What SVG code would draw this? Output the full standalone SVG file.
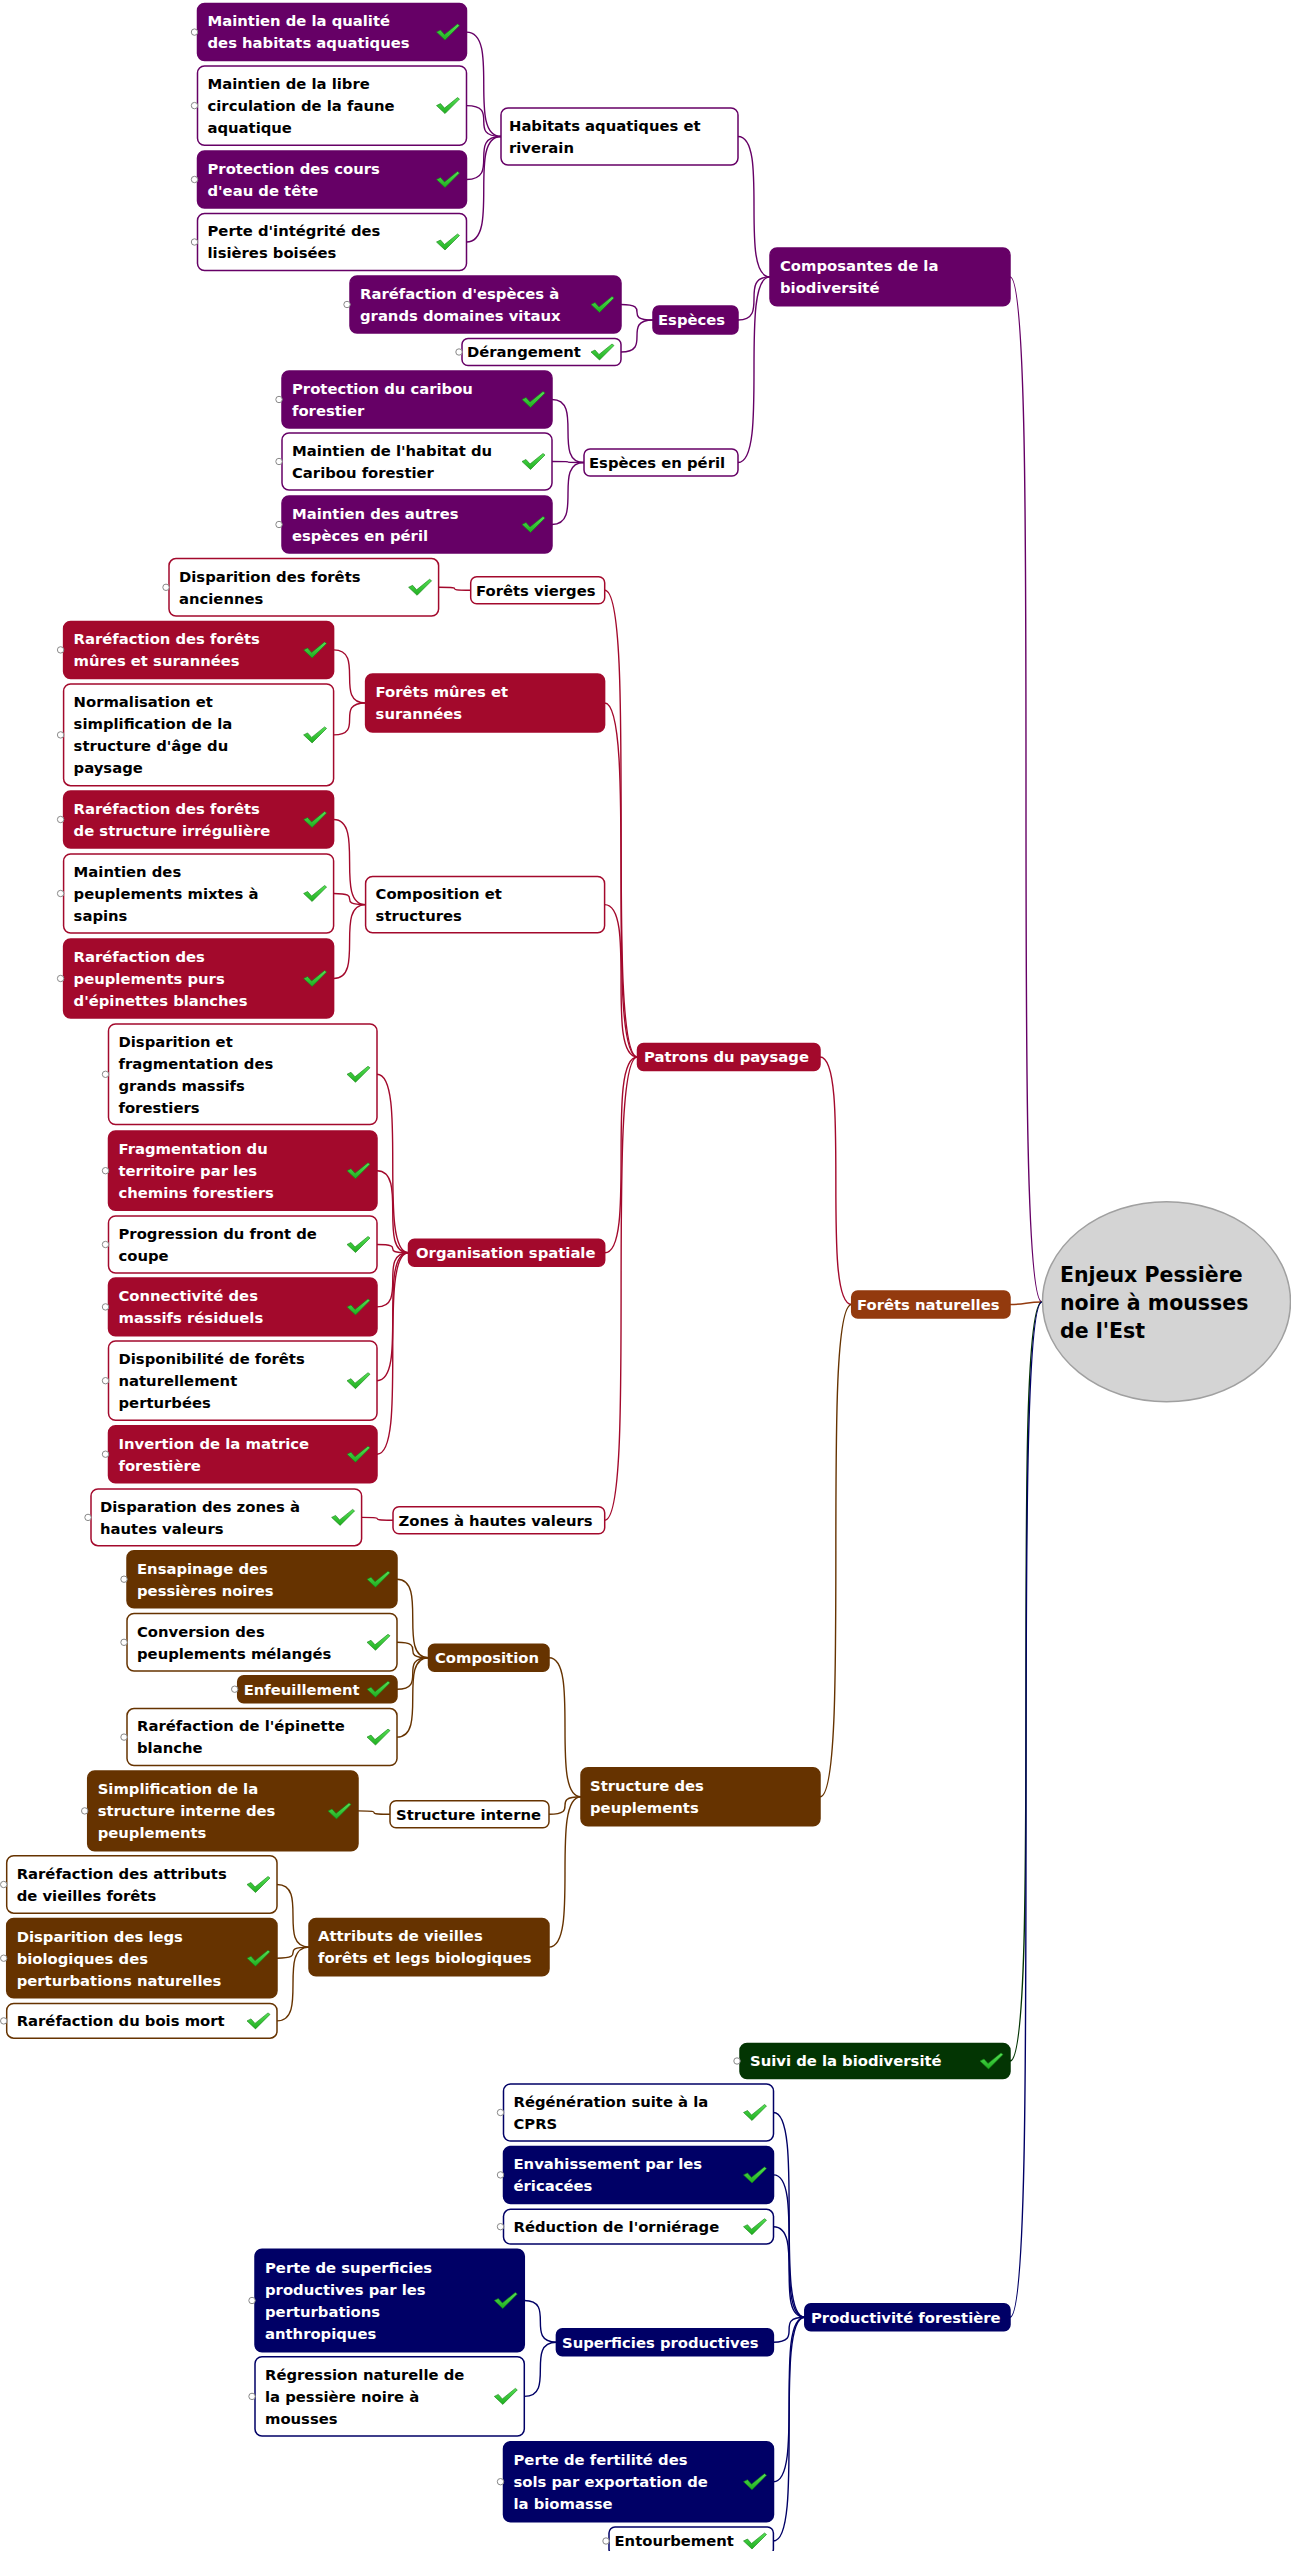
<svg xmlns="http://www.w3.org/2000/svg" width="1291" height="2551" viewBox="0 0 1291 2551">
<style>
text{font-family:"DejaVu Sans","Liberation Sans",sans-serif;font-weight:bold;font-size:14.8px}
.w{fill:#fff}.b{fill:#000}
rect{stroke-width:1.5}
.fp{fill:#660066;stroke:#660066}.wp{fill:#fff;stroke:#660066}
.fr{fill:#a3092c;stroke:#a3092c}.wr{fill:#fff;stroke:#a3092c}
.fo{fill:#933a0e;stroke:#933a0e}
.fb{fill:#663300;stroke:#663300}.wb{fill:#fff;stroke:#663300}
.fg{fill:#033503;stroke:#033503}
.fn{fill:#000066;stroke:#000066}.wn{fill:#fff;stroke:#000066}
.dot{fill:#fff;stroke:#888;stroke-width:1}
#connectors path{fill:none;stroke-width:1.4}
.cp{stroke:#660066}.cr{stroke:#a3092c}.cb{stroke:#663300}.co{stroke:#933a0e}.cg{stroke:#033503}.cn{stroke:#000066}
.root{font-size:20.5px}
</style>
<defs>
<linearGradient id="gk" x1="0" y1="0" x2="0" y2="1"><stop offset="0" stop-color="#55e055"/><stop offset="1" stop-color="#1fae1f"/></linearGradient>
<g id="ck"><path d="M0 7 L4 5 L8 9.5 L21 -1 L23 0.5 L8.5 15 Z" fill="url(#gk)" stroke="#128212" stroke-width="0.6" stroke-linejoin="round"/></g>
</defs>
<rect width="1291" height="2551" fill="#fff"/>
<g id="connectors">
<path class="cp" d="M466.5 32.1 C501 32.1 466.5 136.5 501 136.5"/>
<path class="cp" d="M466.5 105.6 C501 105.6 466.5 136.5 501 136.5"/>
<path class="cp" d="M466.5 179.5 C501 179.5 466.5 136.5 501 136.5"/>
<path class="cp" d="M466.5 242 C501 242 466.5 136.5 501 136.5"/>
<path class="cp" d="M621 304.5 C653 304.5 621 320 653 320"/>
<path class="cp" d="M621 352 C653 352 621 320 653 320"/>
<path class="cp" d="M552 399.5 C584 399.5 552 462.5 584 462.5"/>
<path class="cp" d="M552 461.5 C584 461.5 552 462.5 584 462.5"/>
<path class="cp" d="M552 524.5 C584 524.5 552 462.5 584 462.5"/>
<path class="cp" d="M738 136.5 C770 136.5 738 276.9 770 276.9"/>
<path class="cp" d="M738 320 C770 320 738 276.9 770 276.9"/>
<path class="cp" d="M738 462.5 C770 462.5 738 276.9 770 276.9"/>
<path class="cp" d="M1010 276.9 C1042 276.9 1010 1302 1042 1302"/>
<path class="cr" d="M438.6 587.3 C470.7 587.3 438.6 590.3 470.7 590.3"/>
<path class="cr" d="M333.6 649.9 C365.6 649.9 333.6 703 365.6 703"/>
<path class="cr" d="M333.6 734.9 C365.6 734.9 333.6 703 365.6 703"/>
<path class="cr" d="M333.6 819.5 C365.6 819.5 333.6 904.6 365.6 904.6"/>
<path class="cr" d="M333.6 893.5 C365.6 893.5 333.6 904.6 365.6 904.6"/>
<path class="cr" d="M333.6 978.5 C365.6 978.5 333.6 904.6 365.6 904.6"/>
<path class="cr" d="M377 1074.3 C408.5 1074.3 377 1252.8 408.5 1252.8"/>
<path class="cr" d="M377 1170.7 C408.5 1170.7 377 1252.8 408.5 1252.8"/>
<path class="cr" d="M377 1244.5 C408.5 1244.5 377 1252.8 408.5 1252.8"/>
<path class="cr" d="M377 1306.9 C408.5 1306.9 377 1252.8 408.5 1252.8"/>
<path class="cr" d="M377 1380.7 C408.5 1380.7 377 1252.8 408.5 1252.8"/>
<path class="cr" d="M377 1454.2 C408.5 1454.2 377 1252.8 408.5 1252.8"/>
<path class="cr" d="M361.6 1517.4 C393 1517.4 361.6 1520.2 393 1520.2"/>
<path class="cr" d="M604.7 590.3 C637.5 590.3 604.7 1057 637.5 1057"/>
<path class="cr" d="M604.6 703 C637.5 703 604.6 1057 637.5 1057"/>
<path class="cr" d="M604.6 904.6 C637.5 904.6 604.6 1057 637.5 1057"/>
<path class="cr" d="M604.7 1252.8 C637.5 1252.8 604.7 1057 637.5 1057"/>
<path class="cr" d="M604.7 1520.2 C637.5 1520.2 604.7 1057 637.5 1057"/>
<path class="cr" d="M820 1057 C851.7 1057 820 1304.5 851.7 1304.5"/>
<path class="cb" d="M397 1579.2 C428.5 1579.2 397 1657.8 428.5 1657.8"/>
<path class="cb" d="M397 1642.3 C428.5 1642.3 397 1657.8 428.5 1657.8"/>
<path class="cb" d="M397 1689.2 C428.5 1689.2 397 1657.8 428.5 1657.8"/>
<path class="cb" d="M397 1737.1 C428.5 1737.1 397 1657.8 428.5 1657.8"/>
<path class="cb" d="M358 1810.9 C390 1810.9 358 1814.2 390 1814.2"/>
<path class="cb" d="M277 1884.5 C309 1884.5 277 1947.1 309 1947.1"/>
<path class="cb" d="M277 1958.2 C309 1958.2 277 1947.1 309 1947.1"/>
<path class="cb" d="M277 2020.9 C309 2020.9 277 1947.1 309 1947.1"/>
<path class="cb" d="M549 1657.8 C581 1657.8 549 1796.8 581 1796.8"/>
<path class="cb" d="M549 1814.2 C581 1814.2 549 1796.8 581 1796.8"/>
<path class="cb" d="M549 1947.1 C581 1947.1 549 1796.8 581 1796.8"/>
<path class="cb" d="M820 1796.8 C851.7 1796.8 820 1304.5 851.7 1304.5"/>
<path class="co" d="M1010 1304.5 C1026 1304.5 1026 1302 1042 1302"/>
<path class="cg" d="M1010 2061 C1042 2061 1010 1302 1042 1302"/>
<path class="cn" d="M773.5 2112.5 C804.8 2112.5 773.5 2317.2 804.8 2317.2"/>
<path class="cn" d="M773.5 2174.9 C804.8 2174.9 773.5 2317.2 804.8 2317.2"/>
<path class="cn" d="M773.5 2226.7 C804.8 2226.7 773.5 2317.2 804.8 2317.2"/>
<path class="cn" d="M773.4 2342.2 C804.8 2342.2 773.4 2317.2 804.8 2317.2"/>
<path class="cn" d="M773.5 2481.7 C804.8 2481.7 773.5 2317.2 804.8 2317.2"/>
<path class="cn" d="M773.4 2541 C804.8 2541 773.4 2317.2 804.8 2317.2"/>
<path class="cn" d="M524.3 2300.5 C556.4 2300.5 524.3 2342.2 556.4 2342.2"/>
<path class="cn" d="M524.3 2396.4 C556.4 2396.4 524.3 2342.2 556.4 2342.2"/>
<path class="cn" d="M1010 2317.2 C1042 2317.2 1010 1302 1042 1302"/>
</g>

<g id="root">
<ellipse cx="1166.5" cy="1301.7" rx="124" ry="100" fill="#d4d4d4" stroke="#a0a0a0" stroke-width="1.5"/>
<text class="b root"><tspan x="1060" y="1281.7">Enjeux Pessière</tspan><tspan x="1060" y="1310">noire à mousses</tspan><tspan x="1060" y="1338.3">de l'Est</tspan></text>
</g>

<g id="n1"><rect class="fp" x="197.5" y="3.6" width="269" height="57" rx="7"/><circle class="dot" cx="194.5" cy="32.1" r="3.2"/><text class="w"><tspan x="207.5" y="26.4">Maintien de la qualité</tspan><tspan x="207.5" y="48.4">des habitats aquatiques</tspan></text><use href="#ck" x="436.5" y="25.1"/></g>
<g id="n2"><rect class="wp" x="197.5" y="66" width="269" height="79.3" rx="7"/><circle class="dot" cx="194.5" cy="105.6" r="3.2"/><text class="b"><tspan x="207.5" y="89">Maintien de la libre</tspan><tspan x="207.5" y="111">circulation de la faune</tspan><tspan x="207.5" y="133">aquatique</tspan></text><use href="#ck" x="436.5" y="98.6"/></g>
<g id="n3"><rect class="fp" x="197.5" y="151" width="269" height="57" rx="7"/><circle class="dot" cx="194.5" cy="179.5" r="3.2"/><text class="w"><tspan x="207.5" y="173.8">Protection des cours</tspan><tspan x="207.5" y="195.8">d'eau de tête</tspan></text><use href="#ck" x="436.5" y="172.5"/></g>
<g id="n4"><rect class="wp" x="197.5" y="213.5" width="269" height="57" rx="7"/><circle class="dot" cx="194.5" cy="242" r="3.2"/><text class="b"><tspan x="207.5" y="236.3">Perte d'intégrité des</tspan><tspan x="207.5" y="258.3">lisières boisées</tspan></text><use href="#ck" x="436.5" y="235"/></g>
<g id="n5"><rect class="wp" x="501" y="108" width="237" height="57" rx="7"/><text class="b"><tspan x="509" y="130.8">Habitats aquatiques et</tspan><tspan x="509" y="152.8">riverain</tspan></text></g>
<g id="n6"><rect class="fp" x="770" y="248" width="240" height="57.7" rx="7"/><text class="w"><tspan x="780" y="271.2">Composantes de la</tspan><tspan x="780" y="293.2">biodiversité</tspan></text></g>
<g id="n7"><rect class="fp" x="350" y="276" width="271" height="57" rx="7"/><circle class="dot" cx="347" cy="304.5" r="3.2"/><text class="w"><tspan x="360" y="298.8">Raréfaction d'espèces à</tspan><tspan x="360" y="320.8">grands domaines vitaux</tspan></text><use href="#ck" x="591" y="297.5"/></g>
<g id="n8"><rect class="wp" x="462" y="338.5" width="159" height="27" rx="6"/><circle class="dot" cx="459" cy="352" r="3.2"/><text class="b" x="467" y="357.3">Dérangement</text><use href="#ck" x="591" y="345"/></g>
<g id="n9"><rect class="fp" x="653" y="306" width="85" height="28" rx="6"/><text class="w" x="658" y="325.3">Espèces</text></g>
<g id="n10"><rect class="fp" x="282" y="371" width="270" height="57" rx="7"/><circle class="dot" cx="279" cy="399.5" r="3.2"/><text class="w"><tspan x="292" y="393.8">Protection du caribou</tspan><tspan x="292" y="415.8">forestier</tspan></text><use href="#ck" x="522" y="392.5"/></g>
<g id="n11"><rect class="wp" x="282" y="433" width="270" height="57" rx="7"/><circle class="dot" cx="279" cy="461.5" r="3.2"/><text class="b"><tspan x="292" y="455.8">Maintien de l'habitat du</tspan><tspan x="292" y="477.8">Caribou forestier</tspan></text><use href="#ck" x="522" y="454.5"/></g>
<g id="n12"><rect class="fp" x="282" y="496" width="270" height="57" rx="7"/><circle class="dot" cx="279" cy="524.5" r="3.2"/><text class="w"><tspan x="292" y="518.8">Maintien des autres</tspan><tspan x="292" y="540.8">espèces en péril</tspan></text><use href="#ck" x="522" y="517.5"/></g>
<g id="n13"><rect class="wp" x="584" y="449" width="154" height="27" rx="6"/><text class="b" x="589" y="467.8">Espèces en péril</text></g>

<g id="n14"><rect class="wr" x="169" y="558.6" width="269.6" height="57.4" rx="7"/><circle class="dot" cx="166" cy="587.3" r="3.2"/><text class="b"><tspan x="179" y="581.6">Disparition des forêts</tspan><tspan x="179" y="603.6">anciennes</tspan></text><use href="#ck" x="408.6" y="580.3"/></g>
<g id="n15"><rect class="wr" x="470.7" y="576.8" width="134" height="27" rx="6"/><text class="b" x="476" y="595.6">Forêts vierges</text></g>
<g id="n16"><rect class="fr" x="63.6" y="621.4" width="270" height="57" rx="7"/><circle class="dot" cx="60.6" cy="649.9" r="3.2"/><text class="w"><tspan x="73.6" y="644.2">Raréfaction des forêts</tspan><tspan x="73.6" y="666.2">mûres et surannées</tspan></text><use href="#ck" x="303.6" y="642.9"/></g>
<g id="n17"><rect class="wr" x="63.6" y="684" width="270" height="101.7" rx="7"/><circle class="dot" cx="60.6" cy="734.9" r="3.2"/><text class="b"><tspan x="73.6" y="707.2">Normalisation et</tspan><tspan x="73.6" y="729.2">simplification de la</tspan><tspan x="73.6" y="751.2">structure d'âge du</tspan><tspan x="73.6" y="773.2">paysage</tspan></text><use href="#ck" x="303.6" y="727.9"/></g>
<g id="n18"><rect class="fr" x="365.6" y="674" width="239" height="58" rx="7"/><text class="w"><tspan x="375.6" y="697.3">Forêts mûres et</tspan><tspan x="375.6" y="719.3">surannées</tspan></text></g>
<g id="n19"><rect class="fr" x="63.6" y="791" width="270" height="57" rx="7"/><circle class="dot" cx="60.6" cy="819.5" r="3.2"/><text class="w"><tspan x="73.6" y="813.8">Raréfaction des forêts</tspan><tspan x="73.6" y="835.8">de structure irrégulière</tspan></text><use href="#ck" x="303.6" y="812.5"/></g>
<g id="n20"><rect class="wr" x="63.6" y="854" width="270" height="79" rx="7"/><circle class="dot" cx="60.6" cy="893.5" r="3.2"/><text class="b"><tspan x="73.6" y="876.8">Maintien des</tspan><tspan x="73.6" y="898.8">peuplements mixtes à</tspan><tspan x="73.6" y="920.8">sapins</tspan></text><use href="#ck" x="303.6" y="886.5"/></g>
<g id="n21"><rect class="fr" x="63.6" y="939" width="270" height="79" rx="7"/><circle class="dot" cx="60.6" cy="978.5" r="3.2"/><text class="w"><tspan x="73.6" y="961.8">Raréfaction des</tspan><tspan x="73.6" y="983.8">peuplements purs</tspan><tspan x="73.6" y="1005.8">d'épinettes blanches</tspan></text><use href="#ck" x="303.6" y="971.5"/></g>
<g id="n22"><rect class="wr" x="365.6" y="876.4" width="239" height="56.4" rx="7"/><text class="b"><tspan x="375.6" y="898.9">Composition et</tspan><tspan x="375.6" y="920.9">structures</tspan></text></g>
<g id="n23"><rect class="wr" x="108.5" y="1024" width="268.5" height="100.6" rx="7"/><circle class="dot" cx="105.5" cy="1074.3" r="3.2"/><text class="b"><tspan x="118.5" y="1046.6">Disparition et</tspan><tspan x="118.5" y="1068.6">fragmentation des</tspan><tspan x="118.5" y="1090.6">grands massifs</tspan><tspan x="118.5" y="1112.6">forestiers</tspan></text><use href="#ck" x="347" y="1067.3"/></g>
<g id="n24"><rect class="fr" x="637.5" y="1043.5" width="182.5" height="27" rx="6"/><text class="w" x="644" y="1062.3">Patrons du paysage</text></g>
<g id="n25"><rect class="fr" x="108.5" y="1131" width="268.5" height="79.3" rx="7"/><circle class="dot" cx="105.5" cy="1170.7" r="3.2"/><text class="w"><tspan x="118.5" y="1154">Fragmentation du</tspan><tspan x="118.5" y="1176">territoire par les</tspan><tspan x="118.5" y="1198">chemins forestiers</tspan></text><use href="#ck" x="347" y="1163.7"/></g>
<g id="n26"><rect class="wr" x="108.5" y="1216" width="268.5" height="57" rx="7"/><circle class="dot" cx="105.5" cy="1244.5" r="3.2"/><text class="b"><tspan x="118.5" y="1238.8">Progression du front de</tspan><tspan x="118.5" y="1260.8">coupe</tspan></text><use href="#ck" x="347" y="1237.5"/></g>
<g id="n27"><rect class="fr" x="108.5" y="1278" width="268.5" height="57.7" rx="7"/><circle class="dot" cx="105.5" cy="1306.9" r="3.2"/><text class="w"><tspan x="118.5" y="1301.2">Connectivité des</tspan><tspan x="118.5" y="1323.2">massifs résiduels</tspan></text><use href="#ck" x="347" y="1299.9"/></g>
<g id="n28"><rect class="wr" x="108.5" y="1341" width="268.5" height="79.3" rx="7"/><circle class="dot" cx="105.5" cy="1380.7" r="3.2"/><text class="b"><tspan x="118.5" y="1364">Disponibilité de forêts</tspan><tspan x="118.5" y="1386">naturellement</tspan><tspan x="118.5" y="1408">perturbées</tspan></text><use href="#ck" x="347" y="1373.7"/></g>
<g id="n29"><rect class="fr" x="108.5" y="1425.7" width="268.5" height="57" rx="7"/><circle class="dot" cx="105.5" cy="1454.2" r="3.2"/><text class="w"><tspan x="118.5" y="1448.5">Invertion de la matrice</tspan><tspan x="118.5" y="1470.5">forestière</tspan></text><use href="#ck" x="347" y="1447.2"/></g>
<g id="n30"><rect class="fr" x="408.5" y="1239.3" width="196.2" height="27" rx="6"/><text class="w" x="416" y="1258.1">Organisation spatiale</text></g>
<g id="n31"><rect class="wr" x="91" y="1489" width="270.6" height="56.7" rx="7"/><circle class="dot" cx="88" cy="1517.4" r="3.2"/><text class="b"><tspan x="100" y="1511.7">Disparation des zones à</tspan><tspan x="100" y="1533.7">hautes valeurs</tspan></text><use href="#ck" x="331.6" y="1510.4"/></g>
<g id="n32"><rect class="wr" x="393" y="1506.7" width="211.7" height="27" rx="6"/><text class="b" x="398.5" y="1525.5">Zones à hautes valeurs</text></g>

<g id="n33"><rect class="fo" x="851.7" y="1291" width="158.3" height="27" rx="6"/><text class="w" x="857" y="1309.8">Forêts naturelles</text></g>

<g id="n34"><rect class="fb" x="127" y="1550.7" width="270" height="57" rx="7"/><circle class="dot" cx="124" cy="1579.2" r="3.2"/><text class="w"><tspan x="137" y="1573.5">Ensapinage des</tspan><tspan x="137" y="1595.5">pessières noires</tspan></text><use href="#ck" x="367" y="1572.2"/></g>
<g id="n35"><rect class="wb" x="127" y="1613.5" width="270" height="57.5" rx="7"/><circle class="dot" cx="124" cy="1642.3" r="3.2"/><text class="b"><tspan x="137" y="1636.6">Conversion des</tspan><tspan x="137" y="1658.6">peuplements mélangés</tspan></text><use href="#ck" x="367" y="1635.3"/></g>
<g id="n36"><rect class="fb" x="237.7" y="1675.7" width="159.3" height="27" rx="6"/><circle class="dot" cx="234.7" cy="1689.2" r="3.2"/><text class="w" x="243.7" y="1694.5">Enfeuillement</text><use href="#ck" x="367" y="1682.2"/></g>
<g id="n37"><rect class="wb" x="127" y="1708.6" width="270" height="57" rx="7"/><circle class="dot" cx="124" cy="1737.1" r="3.2"/><text class="b"><tspan x="137" y="1731.4">Raréfaction de l'épinette</tspan><tspan x="137" y="1753.4">blanche</tspan></text><use href="#ck" x="367" y="1730.1"/></g>
<g id="n38"><rect class="fb" x="428.5" y="1644.3" width="120.5" height="27" rx="6"/><text class="w" x="435" y="1663.1">Composition</text></g>
<g id="n39"><rect class="fb" x="87.7" y="1771" width="270.3" height="79.7" rx="7"/><circle class="dot" cx="84.7" cy="1810.9" r="3.2"/><text class="w"><tspan x="97.7" y="1794.2">Simplification de la</tspan><tspan x="97.7" y="1816.2">structure interne des</tspan><tspan x="97.7" y="1838.2">peuplements</tspan></text><use href="#ck" x="328" y="1803.9"/></g>
<g id="n40"><rect class="wb" x="390" y="1800.7" width="159" height="27" rx="6"/><text class="b" x="396" y="1819.5">Structure interne</text></g>
<g id="n41"><rect class="fb" x="581" y="1767.8" width="239" height="58" rx="7"/><text class="w"><tspan x="590" y="1791.1">Structure des</tspan><tspan x="590" y="1813.1">peuplements</tspan></text></g>
<g id="n42"><rect class="wb" x="6.7" y="1855.7" width="270.3" height="57.5" rx="7"/><circle class="dot" cx="3.7" cy="1884.5" r="3.2"/><text class="b"><tspan x="16.7" y="1878.8">Raréfaction des attributs</tspan><tspan x="16.7" y="1900.8">de vieilles forêts</tspan></text><use href="#ck" x="247" y="1877.5"/></g>
<g id="n43"><rect class="fb" x="6.7" y="1918.5" width="270.3" height="79.3" rx="7"/><circle class="dot" cx="3.7" cy="1958.2" r="3.2"/><text class="w"><tspan x="16.7" y="1941.5">Disparition des legs</tspan><tspan x="16.7" y="1963.5">biologiques des</tspan><tspan x="16.7" y="1985.5">perturbations naturelles</tspan></text><use href="#ck" x="247" y="1951.2"/></g>
<g id="n44"><rect class="wb" x="6.7" y="2003.5" width="270.3" height="34.7" rx="7"/><circle class="dot" cx="3.7" cy="2020.9" r="3.2"/><text class="b" x="16.7" y="2026.2">Raréfaction du bois mort</text><use href="#ck" x="247" y="2013.9"/></g>
<g id="n45"><rect class="fb" x="309" y="1918.5" width="240" height="57.2" rx="7"/><text class="w"><tspan x="318" y="1941.4">Attributs de vieilles</tspan><tspan x="318" y="1963.4">forêts et legs biologiques</tspan></text></g>

<g id="n46"><rect class="fg" x="740" y="2043.5" width="270" height="35" rx="7"/><circle class="dot" cx="737" cy="2061" r="3.2"/><text class="w" x="750" y="2066.3">Suivi de la biodiversité</text><use href="#ck" x="980" y="2054"/></g>

<g id="n47"><rect class="wn" x="503.5" y="2084" width="270" height="57" rx="7"/><circle class="dot" cx="500.5" cy="2112.5" r="3.2"/><text class="b"><tspan x="513.5" y="2106.8">Régénération suite à la</tspan><tspan x="513.5" y="2128.8">CPRS</tspan></text><use href="#ck" x="743.5" y="2105.5"/></g>
<g id="n48"><rect class="fn" x="503.5" y="2146.4" width="270" height="57" rx="7"/><circle class="dot" cx="500.5" cy="2174.9" r="3.2"/><text class="w"><tspan x="513.5" y="2169.2">Envahissement par les</tspan><tspan x="513.5" y="2191.2">éricacées</tspan></text><use href="#ck" x="743.5" y="2167.9"/></g>
<g id="n49"><rect class="wn" x="503.5" y="2209.3" width="270" height="34.7" rx="7"/><circle class="dot" cx="500.5" cy="2226.7" r="3.2"/><text class="b" x="513.5" y="2232">Réduction de l'orniérage</text><use href="#ck" x="743.5" y="2219.7"/></g>
<g id="n50"><rect class="fn" x="255" y="2249.3" width="269.3" height="102.4" rx="7"/><circle class="dot" cx="252" cy="2300.5" r="3.2"/><text class="w"><tspan x="265" y="2272.8">Perte de superficies</tspan><tspan x="265" y="2294.8">productives par les</tspan><tspan x="265" y="2316.8">perturbations</tspan><tspan x="265" y="2338.8">anthropiques</tspan></text><use href="#ck" x="494.3" y="2293.5"/></g>
<g id="n51"><rect class="wn" x="255" y="2356.7" width="269.3" height="79.3" rx="7"/><circle class="dot" cx="252" cy="2396.4" r="3.2"/><text class="b"><tspan x="265" y="2379.7">Régression naturelle de</tspan><tspan x="265" y="2401.7">la pessière noire à</tspan><tspan x="265" y="2423.7">mousses</tspan></text><use href="#ck" x="494.3" y="2389.4"/></g>
<g id="n52"><rect class="fn" x="556.4" y="2328.7" width="217" height="27" rx="6"/><text class="w" x="562" y="2347.5">Superficies productives</text></g>
<g id="n53"><rect class="fn" x="804.8" y="2303.7" width="205.2" height="27" rx="6"/><text class="w" x="811" y="2322.5">Productivité forestière</text></g>
<g id="n54"><rect class="fn" x="503.5" y="2441.7" width="270" height="80" rx="7"/><circle class="dot" cx="500.5" cy="2481.7" r="3.2"/><text class="w"><tspan x="513.5" y="2465">Perte de fertilité des</tspan><tspan x="513.5" y="2487">sols par exportation de</tspan><tspan x="513.5" y="2509">la biomasse</tspan></text><use href="#ck" x="743.5" y="2474.7"/></g>
<g id="n55"><rect class="wn" x="609" y="2527" width="164.4" height="28" rx="6"/><circle class="dot" cx="606" cy="2541" r="3.2"/><text class="b" x="614.5" y="2546.3">Entourbement</text><use href="#ck" x="743.5" y="2534"/></g>
</svg>
